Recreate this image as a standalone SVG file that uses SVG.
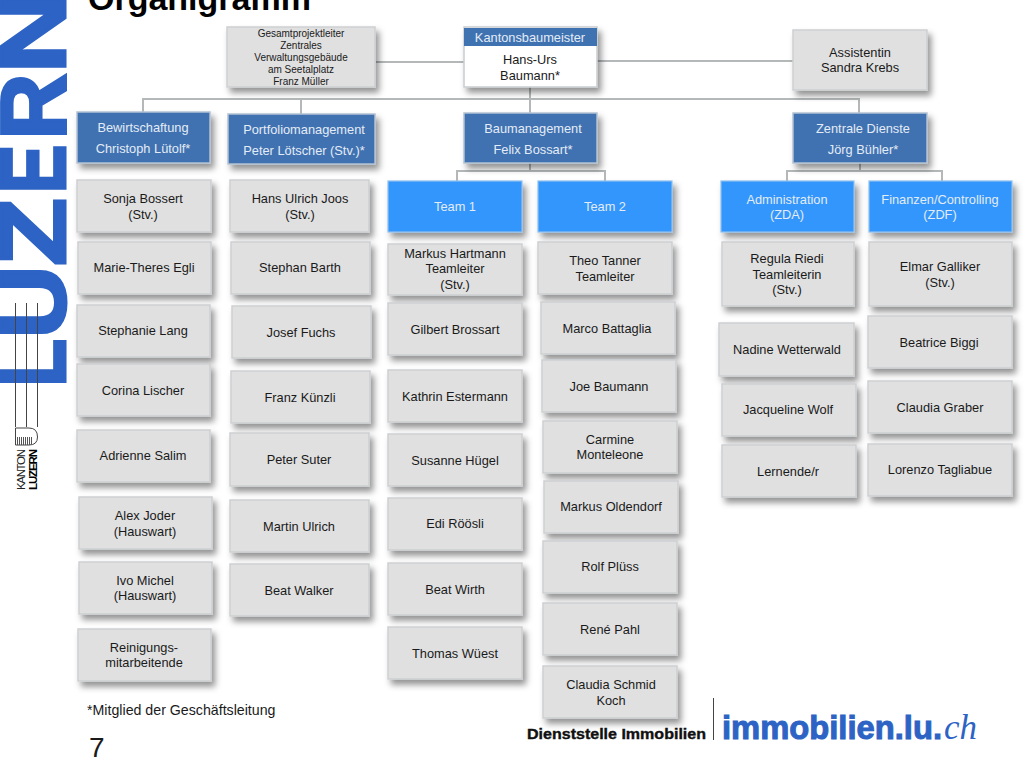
<svg xmlns="http://www.w3.org/2000/svg" width="1024" height="768" viewBox="0 0 1024 768">
<defs>
<filter id="sh" x="-15%" y="-20%" width="135%" height="150%"><feDropShadow dx="3.500" dy="5" stdDeviation="3" flood-color="#000" flood-opacity="0.42"/></filter>
</defs>
<style>
text{font-family:"Liberation Sans",Arial,sans-serif;text-anchor:middle;font-size:12.800px;fill:#1a1a1a}
.g rect{fill:#e0e0e0;stroke:#cdd0d2;stroke-width:1.500;filter:url(#sh)}
.d rect{fill:#3f72b1;stroke:#b4c2d3;stroke-width:1.500;filter:url(#sh)}
.b rect{fill:#3396fc;stroke:#8fc0ee;stroke-width:1.200;filter:url(#sh)}
.d text,.b text{fill:#e4ecf6}
.s text{font-size:10px}
#connectors path{fill:none;stroke:#b4b8b8;stroke-width:2}
.l{text-anchor:start}
</style>

<g id="title"><text x="88" y="10" class="l" style="font-size:34px;font-weight:bold;fill:#000">Organigramm</text></g>

<g id="logo-luzern">
<text transform="translate(65,383) rotate(-90)" class="l" style="font-size:92px;font-weight:bold;fill:#2d63c4;stroke:#2d63c4;stroke-width:3"><tspan x="-4" textLength="48" lengthAdjust="spacingAndGlyphs">L</tspan><tspan x="44.500" textLength="73" lengthAdjust="spacingAndGlyphs">U</tspan><tspan x="117" textLength="68" lengthAdjust="spacingAndGlyphs">Z</tspan><tspan x="189.500" textLength="49" lengthAdjust="spacingAndGlyphs">E</tspan><tspan x="243.500" textLength="66" lengthAdjust="spacingAndGlyphs">R</tspan><tspan x="309.500" textLength="83" lengthAdjust="spacingAndGlyphs">N</tspan></text>
<path d="M15.500 303V427M26.500 303V427M37.500 303V427" stroke="#444" stroke-width="1" fill="none"/>
<path d="M15.500 428H29Q37.500 428 37.500 437Q37.500 445 29 445H15.500Z" fill="#fff" stroke="#444" stroke-width="1"/>
<path d="M17.500 437V445M19.500 437V445M21.500 437V445M23.500 437V445M25.500 437V445M27.500 437V445M29.500 437V445M31.500 437V444" stroke="#555" stroke-width="1" fill="none"/>
<text transform="translate(25,490) rotate(-90)" class="l" textLength="41" style="font-size:11.500px;fill:#222">KANTON</text>
<text transform="translate(36.500,490) rotate(-90)" class="l" textLength="41" style="font-size:11.500px;font-weight:bold;fill:#000">LUZERN</text>
</g>

<g id="connectors">
<path d="M376 62H464"/>
<path d="M597 61H793"/>
<path d="M530 87V113"/>
<path d="M143 112V99H859V113"/>
<path d="M301 99V114"/>
<path d="M530 163V171M457 181V171H605V181"/>
<path d="M860 163V171M787 181V171H942V181"/>
</g>

<g id="n-gesamt" class="g s"><rect x="227" y="27" width="148" height="60"/>
<text x="301" y="37">Gesamtprojektleiter</text><text x="301" y="49">Zentrales</text><text x="301" y="61">Verwaltungsgebäude</text><text x="301" y="73">am Seetalplatz</text><text x="301" y="85">Franz Müller</text></g>
<g id="n-kantons"><rect x="464" y="27" width="133" height="60" fill="#fff" stroke="#c9cdd0" stroke-width="1.500" filter="url(#sh)"/>
<rect x="464" y="28" width="133" height="18" fill="#3f72b1"/>
<text x="530" y="42" style="fill:#e4ecf6">Kantonsbaumeister</text><text x="530" y="64">Hans-Urs</text><text x="530" y="80">Baumann*</text></g>
<g id="n-assist" class="g"><rect x="793" y="30" width="134" height="60"/><text x="860" y="57">Assistentin</text><text x="860" y="72">Sandra Krebs</text></g>

<g id="n-bew" class="d"><rect x="77" y="112" width="133" height="51"/><text x="143" y="132">Bewirtschaftung</text><text x="143" y="153">Christoph Lütolf*</text></g>
<g id="n-port" class="d"><rect x="228" y="114" width="147" height="50"/><text x="304" y="134">Portfoliomanagement</text><text x="304" y="155">Peter Lötscher (Stv.)*</text></g>
<g id="n-baum" class="d"><rect x="464" y="113" width="133" height="50"/><text x="533" y="133">Baumanagement</text><text x="533" y="154">Felix Bossart*</text></g>
<g id="n-zen" class="d"><rect x="793" y="113" width="134" height="50"/><text x="863" y="133">Zentrale Dienste</text><text x="863" y="154">Jörg Bühler*</text></g>

<g id="n-team1" class="b"><rect x="388" y="181" width="134" height="51"/><text x="455" y="211">Team 1</text></g>
<g id="n-team2" class="b"><rect x="538" y="181" width="134" height="51"/><text x="605" y="211">Team 2</text></g>
<g id="n-zda" class="b"><rect x="721" y="181" width="133" height="51"/><text x="787" y="204">Administration</text><text x="787" y="219">(ZDA)</text></g>
<g id="n-zdf" class="b"><rect x="869" y="181" width="143" height="51"/><text x="940" y="204">Finanzen/Controlling</text><text x="940" y="219">(ZDF)</text></g>

<g id="n-sonja" class="g"><rect x="77" y="180" width="134" height="52"/><text x="143" y="203">Sonja Bossert</text><text x="143" y="219">(Stv.)</text></g>
<g id="n-marie" class="g"><rect x="78" y="242" width="133" height="52"/><text x="144" y="272">Marie-Theres Egli</text></g>
<g id="n-stephanie" class="g"><rect x="77" y="305" width="133" height="52"/><text x="143" y="335">Stephanie Lang</text></g>
<g id="n-corina" class="g"><rect x="77" y="364" width="133" height="52"/><text x="143" y="395">Corina Lischer</text></g>
<g id="n-adrienne" class="g"><rect x="77" y="430" width="133" height="52"/><text x="143" y="460">Adrienne Salim</text></g>
<g id="n-alex" class="g"><rect x="79" y="497" width="133" height="52"/><text x="145" y="520">Alex Joder</text><text x="145" y="536">(Hauswart)</text></g>
<g id="n-ivo" class="g"><rect x="79" y="562" width="133" height="52"/><text x="145" y="585">Ivo Michel</text><text x="145" y="600">(Hauswart)</text></g>
<g id="n-rein" class="g"><rect x="78" y="629" width="133" height="52"/><text x="144" y="652">Reinigungs-</text><text x="144" y="667">mitarbeitende</text></g>

<g id="n-hans" class="g"><rect x="230" y="180" width="139" height="52"/><text x="300" y="203">Hans Ulrich Joos</text><text x="300" y="219">(Stv.)</text></g>
<g id="n-stephan" class="g"><rect x="231" y="242" width="139" height="52"/><text x="300" y="272">Stephan Barth</text></g>
<g id="n-josef" class="g"><rect x="232" y="306" width="139" height="52"/><text x="301" y="337">Josef Fuchs</text></g>
<g id="n-franz" class="g"><rect x="231" y="371" width="139" height="52"/><text x="300" y="402">Franz Künzli</text></g>
<g id="n-peter" class="g"><rect x="230" y="433" width="139" height="53"/><text x="299" y="464">Peter Suter</text></g>
<g id="n-martin" class="g"><rect x="230" y="500" width="139" height="52"/><text x="299" y="531">Martin Ulrich</text></g>
<g id="n-beatw" class="g"><rect x="230" y="564" width="139" height="52"/><text x="299" y="595">Beat Walker</text></g>

<g id="n-markush" class="g"><rect x="388" y="244" width="134" height="51"/><text x="455" y="258">Markus Hartmann</text><text x="455" y="273">Teamleiter</text><text x="455" y="289">(Stv.)</text></g>
<g id="n-gilbert" class="g"><rect x="388" y="303" width="134" height="52"/><text x="455" y="334">Gilbert Brossart</text></g>
<g id="n-kathrin" class="g"><rect x="388" y="370" width="134" height="52"/><text x="455" y="401">Kathrin Estermann</text></g>
<g id="n-susanne" class="g"><rect x="388" y="434" width="134" height="52"/><text x="455" y="465">Susanne Hügel</text></g>
<g id="n-edi" class="g"><rect x="388" y="498" width="134" height="52"/><text x="455" y="528">Edi Röösli</text></g>
<g id="n-beatwirth" class="g"><rect x="388" y="563" width="134" height="52"/><text x="455" y="594">Beat Wirth</text></g>
<g id="n-thomas" class="g"><rect x="388" y="627" width="134" height="52"/><text x="455" y="658">Thomas Wüest</text></g>

<g id="n-theo" class="g"><rect x="538" y="242" width="134" height="52"/><text x="605" y="265">Theo Tanner</text><text x="605" y="281">Teamleiter</text></g>
<g id="n-marco" class="g"><rect x="541" y="302" width="134" height="52"/><text x="607" y="333">Marco Battaglia</text></g>
<g id="n-joe" class="g"><rect x="542" y="360" width="134" height="52"/><text x="609" y="391">Joe Baumann</text></g>
<g id="n-carmine" class="g"><rect x="543" y="421" width="134" height="52"/><text x="610" y="444">Carmine</text><text x="610" y="459">Monteleone</text></g>
<g id="n-markuso" class="g"><rect x="544" y="481" width="134" height="52"/><text x="611" y="511">Markus Oldendorf</text></g>
<g id="n-rolf" class="g"><rect x="543" y="541" width="134" height="52"/><text x="610" y="571">Rolf Plüss</text></g>
<g id="n-rene" class="g"><rect x="543" y="603" width="134" height="52"/><text x="610" y="634">René Pahl</text></g>
<g id="n-claudias" class="g"><rect x="543" y="666" width="134" height="52"/><text x="611" y="689">Claudia Schmid</text><text x="611" y="705">Koch</text></g>

<g id="n-regula" class="g"><rect x="722" y="242" width="132" height="64"/><text x="787" y="263">Regula Riedi</text><text x="787" y="279">Teamleiterin</text><text x="787" y="294">(Stv.)</text></g>
<g id="n-nadine" class="g"><rect x="719" y="323" width="135" height="53"/><text x="787" y="354">Nadine Wetterwald</text></g>
<g id="n-jacq" class="g"><rect x="722" y="384" width="134" height="52"/><text x="788" y="414">Jacqueline Wolf</text></g>
<g id="n-lern" class="g"><rect x="722" y="445" width="134" height="52"/><text x="788" y="476">Lernende/r</text></g>

<g id="n-elmar" class="g"><rect x="869" y="242" width="143" height="64"/><text x="940" y="271">Elmar Galliker</text><text x="940" y="287">(Stv.)</text></g>
<g id="n-beatrice" class="g"><rect x="868" y="316" width="144" height="52"/><text x="939" y="347">Beatrice Biggi</text></g>
<g id="n-claudiag" class="g"><rect x="868" y="381" width="144" height="52"/><text x="940" y="412">Claudia Graber</text></g>
<g id="n-lorenzo" class="g"><rect x="868" y="444" width="144" height="52"/><text x="940" y="474">Lorenzo Tagliabue</text></g>

<g id="footer">
<text x="87" y="715" class="l" style="font-size:14.200px">*Mitglied der Geschäftsleitung</text>
<text x="89" y="757" class="l" style="font-size:28px">7</text>
<text x="527" y="739" class="l" textLength="179" lengthAdjust="spacingAndGlyphs" style="font-size:15.500px;font-weight:bold;fill:#111;stroke:#111;stroke-width:0.400">Dienststelle Immobilien</text>
<path d="M713.500 698V740" stroke="#444" stroke-width="1"/>
<text x="722" y="739" class="l" textLength="220" lengthAdjust="spacingAndGlyphs" style="font-size:33px;font-weight:bold;fill:#2d63c4;stroke:#2d63c4;stroke-width:1">immobilien.lu.</text>
<text x="944" y="739" class="l" textLength="33" lengthAdjust="spacingAndGlyphs" style="font-size:35px;font-style:italic;font-family:'Liberation Serif',serif;fill:#2d63c4">ch</text>
</g>
</svg>
